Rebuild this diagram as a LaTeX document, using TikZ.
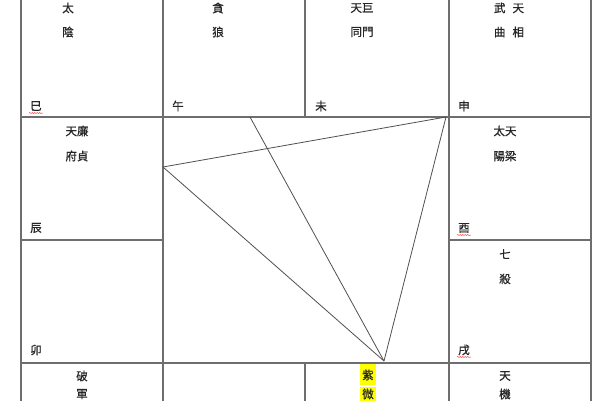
\documentclass[tikz,border=0pt]{standalone}
\usepackage{fontspec}
\newfontfamily\cjk[FakeBold=0.8]{Noto Sans CJK TC}
\usetikzlibrary{decorations.pathmorphing}
\definecolor{gridgray}{RGB}{110,110,110}
\definecolor{trigray}{RGB}{80,80,80}
\definecolor{hl}{RGB}{255,255,0}
\begin{document}
\begin{tikzpicture}[x=1pt,y=-1pt,
  gridline/.style={draw=gridgray,line width=1.3pt},
  tri/.style={draw=trigray,line width=0.8pt},
  star/.style={font=\cjk\fontsize{11.5}{13}\selectfont,inner sep=0pt,anchor=center,text=black!85},
  branch/.style={font=\cjk\fontsize{11.5}{13}\selectfont,inner sep=0pt,anchor=center,text=black!85},
  squiggle/.style={draw=red!75,line width=0.5pt,decorate,decoration={snake,amplitude=0.5pt,segment length=2.5pt}},
  hlbox/.style={fill=hl,draw=none}]
\useasboundingbox (0,0) rectangle (600,400);
\clip (0,0) rectangle (600,400);
\fill[white] (0,0) rectangle (600,400);
% grid
\draw[gridline] (21,-10) -- (21,410);
\draw[gridline] (163,-10) -- (163,410);
\draw[gridline] (449,-10) -- (449,410);
\draw[gridline] (591,-10) -- (591,410);
\draw[gridline] (305,-10) -- (305,117);
\draw[gridline] (305,363) -- (305,410);
\draw[gridline] (21,117) -- (591,117);
\draw[gridline] (21,240) -- (163,240);
\draw[gridline] (449,240) -- (591,240);
\draw[gridline] (21,363) -- (591,363);
% highlight
\fill[hlbox] (360,364) rectangle (376,385);
\fill[hlbox] (360,387) rectangle (376,410);
% stars
\node[star] (s1a) at (68,8) {太};
\node[star] (s1b) at (68,32) {陰};
\node[star] (s2a) at (218,8) {貪};
\node[star] (s2b) at (218,32) {狼};
\node[star] (s3a) at (362,8) {天巨};
\node[star] (s3b) at (362,32) {同門};
\node[star] (s4a) at (509,8) {武\hspace{7pt}天};
\node[star] (s4b) at (509,32) {曲\hspace{7pt}相};
\node[star] (s5a) at (77,131) {天廉};
\node[star] (s5b) at (77,156) {府貞};
\node[star] (s6a) at (505,131) {太天};
\node[star] (s6b) at (505,156) {陽梁};
\node[star] (s7a) at (505,254) {七};
\node[star] (s7b) at (505,279) {殺};
\node[star] (s8a) at (82,376) {破};
\node[star] (s8b) at (82,394) {軍};
\node[star] (s9a) at (368,375) {紫};
\node[star] (s9b) at (368,394) {微};
\node[star] (s10a) at (505,376) {天};
\node[star] (s10b) at (505,394) {機};
% branches
\node[branch] (b1) at (36,106) {巳};
\node[branch] (b2) at (178,106) {午};
\node[branch] (b3) at (321,106) {未};
\node[branch] (b4) at (464,106) {申};
\node[branch] (b5) at (36,228) {辰};
\node[branch] (b6) at (464,228) {酉};
\node[branch] (b7) at (36,350) {卯};
\node[branch] (b8) at (464,350) {戌};
\draw[squiggle] (29,113) -- (43,113);
\draw[squiggle] (457,235) -- (471,235);
\draw[squiggle] (457,357) -- (471,357);
% triangle
\coordinate (A) at (163,167);
\coordinate (B) at (446,117);
\coordinate (C) at (384,361);
\coordinate (D) at (250,117);
\draw[tri] (A) -- (B);
\draw[tri] (B) -- (C);
\draw[tri] (A) -- (C);
\draw[tri] (D) -- (C);
\end{tikzpicture}
\end{document}
